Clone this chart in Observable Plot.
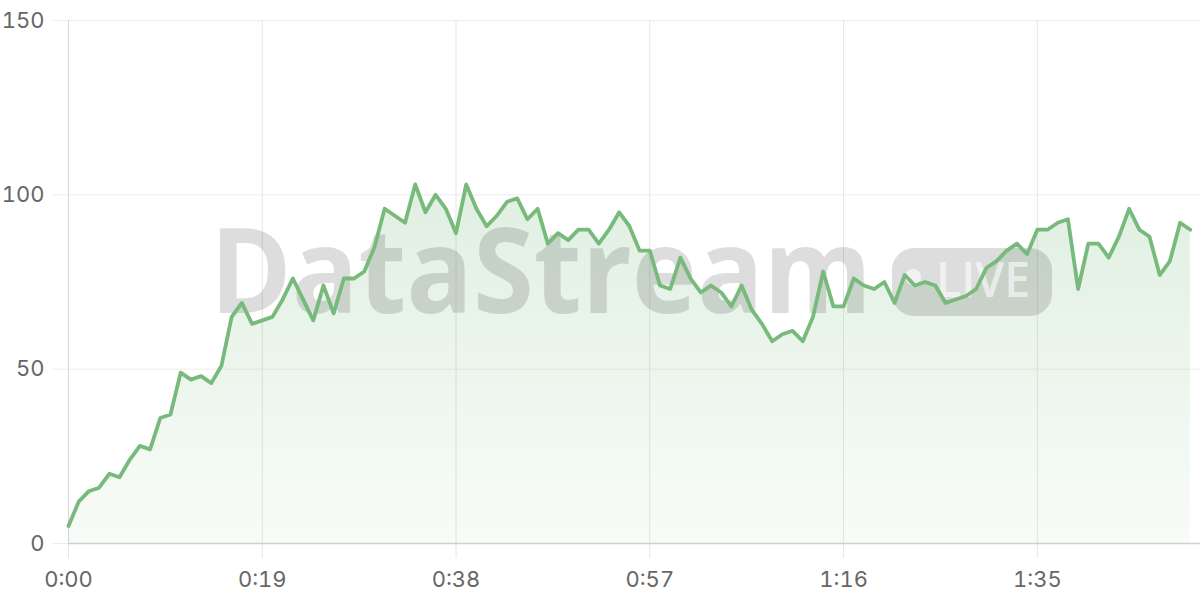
<!DOCTYPE html>
<html>
<head>
<meta charset="utf-8">
<script src="https://cdn.jsdelivr.net/npm/d3@7"></script>
<script src="https://cdn.jsdelivr.net/npm/@observablehq/plot@0.6"></script>
<style>
  html, body { margin: 0; padding: 0; background: #fff; }
  #chart { width: 1200px; height: 600px; }
</style>
</head>
<body>
<div id="chart"></div>
<script>
// elapsed time in seconds
const seconds = [
  0, 1, 2, 3, 4, 5, 6, 7, 8, 9,
  10, 11, 12, 13, 14, 15, 16, 17, 18, 19,
  20, 21, 22, 23, 24, 25, 26, 27, 28, 29,
  30, 31, 32, 33, 34, 35, 36, 37, 38, 39,
  40, 41, 42, 43, 44, 45, 46, 47, 48, 49,
  50, 51, 52, 53, 54, 55, 56, 57, 58, 59,
  60, 61, 62, 63, 64, 65, 66, 67, 68, 69,
  70, 71, 72, 73, 74, 75, 76, 77, 78, 79,
  80, 81, 82, 83, 84, 85, 86, 87, 88, 89,
  90, 91, 92, 93, 94, 95, 96, 97, 98, 99,
  100, 101, 102, 103, 104, 105, 106, 107, 108, 109,
  110
];
// series values
const values = [
  5, 12, 15, 16, 20, 19, 24, 28, 27, 36,
  37, 49, 47, 48, 46, 51, 65, 69, 63, 64,
  65, 70, 76, 70, 64, 74, 66, 76, 76, 78,
  85, 96, 94, 92, 103, 95, 100, 96, 89, 103,
  96, 91, 94, 98, 99, 93, 96, 86, 89, 87,
  90, 90, 86, 90, 95, 91, 84, 84, 74, 73,
  82, 76, 72, 74, 72, 68, 74, 67, 63, 58,
  60, 61, 58, 65, 78, 68, 68, 76, 74, 73,
  75, 69, 77, 74, 75, 74, 69, 70, 71, 73,
  79, 81, 84, 86, 83, 90, 90, 92, 93, 73,
  86, 86, 82, 88, 96, 90, 88, 77, 81, 92,
  90
];
const xTicks = [0, 19, 38, 57, 76, 95];
const xTickLabels = ["0:00", "0:19", "0:38", "0:57", "1:16", "1:35"];
const yTicks = [0, 50, 100, 150];
const watermarkMain = "DataStream";
const watermarkBadge = "LIVE";

const data = seconds.map((t, i) => ({t, v: values[i]}));

const GREEN = "#77ba7b";
const NS = "http://www.w3.org/2000/svg";

function el(name, attrs, text) {
  const e = document.createElementNS(NS, name);
  for (const k in attrs) e.setAttribute(k, attrs[k]);
  if (text != null) e.textContent = text;
  return e;
}

// gradient definition for the area
const gradientMark = () => {
  const defs = el("defs", {});
  const lg = el("linearGradient", {id: "areaGrad", x1: "0", y1: "0", x2: "0", y2: "1"});
  lg.appendChild(el("stop", {offset: "0%", "stop-color": GREEN, "stop-opacity": "0.23"}));
  lg.appendChild(el("stop", {offset: "100%", "stop-color": GREEN, "stop-opacity": "0.05"}));
  defs.appendChild(lg);
  return defs;
};

// watermark drawn between the area and the line
const watermarkMark = () => {
  const g = el("g", {"pointer-events": "none", "text-anchor": "start"});
  g.appendChild(el("text", {
    x: 210, y: 313, "font-family": "Open Sans", "font-weight": 700, "font-size": 118,
    "text-anchor": "start",
    fill: "rgba(0,0,0,0.135)", textLength: 662, lengthAdjust: "spacingAndGlyphs"
  }, watermarkMain));
  g.appendChild(el("rect", {x: 892, y: 248, width: 160, height: 68, rx: 22, ry: 22, fill: "rgba(0,0,0,0.135)"}));
  g.appendChild(el("circle", {cx: 913, cy: 277, r: 8, fill: "rgba(255,255,255,0.62)"}));
  g.appendChild(el("text", {
    x: 936, y: 297, "font-family": "Open Sans", "font-weight": 600, "font-size": 48,
    "text-anchor": "start",
    fill: "rgba(255,255,255,0.62)", textLength: 94, lengthAdjust: "spacingAndGlyphs"
  }, watermarkBadge));
  return g;
};

const plot = Plot.plot({
  width: 1200,
  height: 600,
  marginLeft: 68,
  marginRight: 0,
  marginTop: 20,
  marginBottom: 57,
  style: {fontFamily: "Inter, 'Noto Sans', sans-serif", fontSize: "22px", color: "#666", background: "#fff", overflow: "visible"},
  x: {domain: [0, 111]},
  y: {domain: [0, 150]},
  marks: [
    gradientMark,
    Plot.gridY(yTicks, {stroke: "#ebebeb", strokeOpacity: 1}),
    Plot.gridX(xTicks, {stroke: "#e6e6e6", strokeOpacity: 1}),
    Plot.axisY(yTicks, {tickSize: 15, tickPadding: 9, stroke: "#ebebeb", fill: "#666", label: null, tickFormat: d => String(d)}),
    Plot.axisX(xTicks, {tickSize: 15, tickPadding: 13, stroke: "#e6e6e6", fill: "#666", label: null, tickFormat: d => xTickLabels[xTicks.indexOf(d)]}),
    Plot.ruleX([0], {stroke: "#d6d6d6"}),
    Plot.areaY(data, {x: "t", y: "v", fill: "url(#areaGrad)"}),
    watermarkMark,
    Plot.ruleY([0], {stroke: "#cfcfcf", strokeWidth: 1.5}),
    Plot.lineY(data, {x: "t", y: "v", stroke: GREEN, strokeWidth: 3.8, strokeLinejoin: "round", strokeLinecap: "round"})
  ]
});

document.getElementById("chart").appendChild(plot);
</script>
</body>
</html>
